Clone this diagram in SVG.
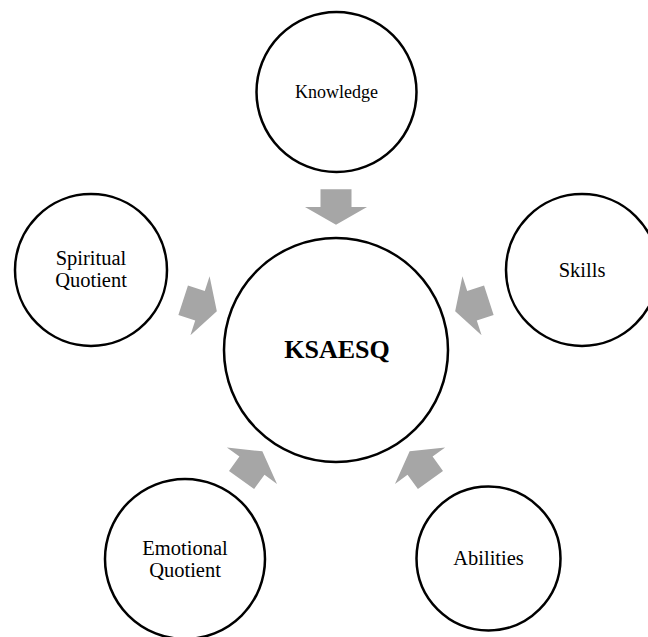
<svg xmlns="http://www.w3.org/2000/svg" width="648" height="637" viewBox="0 0 648 637">
<defs>
<style>
.node{fill:#ffffff;stroke:#000000;stroke-width:2.5}
.lbl{font-family:"Liberation Serif","Times New Roman",serif;font-size:20.5px;fill:#000000;text-anchor:middle}
.big{font-family:"Liberation Serif","Times New Roman",serif;font-size:26px;font-weight:bold;fill:#000000;text-anchor:middle}
.arr{fill:#a6a6a6;stroke:none}
</style>
<path id="blk" class="arr" d="M -17.7 -15.5 L 0 -15.5 L 0 -31 L 17.7 0 L 0 31 L 0 15.5 L -17.7 15.5 Z"/>
</defs>
<rect width="648" height="637" fill="#ffffff"/>
<g id="connectors">
<use href="#blk" transform="translate(336 350) rotate(90) translate(-143 0)"/>
<use href="#blk" transform="translate(336 350) rotate(162) translate(-143 0)"/>
<use href="#blk" transform="translate(336 350) rotate(234) translate(-143 0)"/>
<use href="#blk" transform="translate(336 350) rotate(306) translate(-143 0)"/>
<use href="#blk" transform="translate(336 350) rotate(18) translate(-143 0)"/>
</g>
<g id="center">
<circle class="node" cx="336" cy="350" r="112"/>
<text class="big" x="337" y="358">KSAESQ</text>
</g>
<g id="knowledge">
<circle class="node" cx="336.5" cy="92" r="80"/>
<text class="lbl" x="336.5" y="98" style="font-size:18px">Knowledge</text>
</g>
<g id="skills">
<circle class="node" cx="582" cy="270" r="76"/>
<text class="lbl" x="582" y="277">Skills</text>
</g>
<g id="abilities">
<circle class="node" cx="488.5" cy="558.5" r="72"/>
<text class="lbl" x="488.5" y="564.5">Abilities</text>
</g>
<g id="emotional">
<circle class="node" cx="185" cy="559" r="80"/>
<text class="lbl" x="185" y="555"><tspan x="185" y="555">Emotional</tspan><tspan x="185" y="576.5">Quotient</tspan></text>
</g>
<g id="spiritual">
<circle class="node" cx="91" cy="270" r="76"/>
<text class="lbl" x="91" y="265"><tspan x="91" y="265">Spiritual</tspan><tspan x="91" y="286.5">Quotient</tspan></text>
</g>
</svg>
